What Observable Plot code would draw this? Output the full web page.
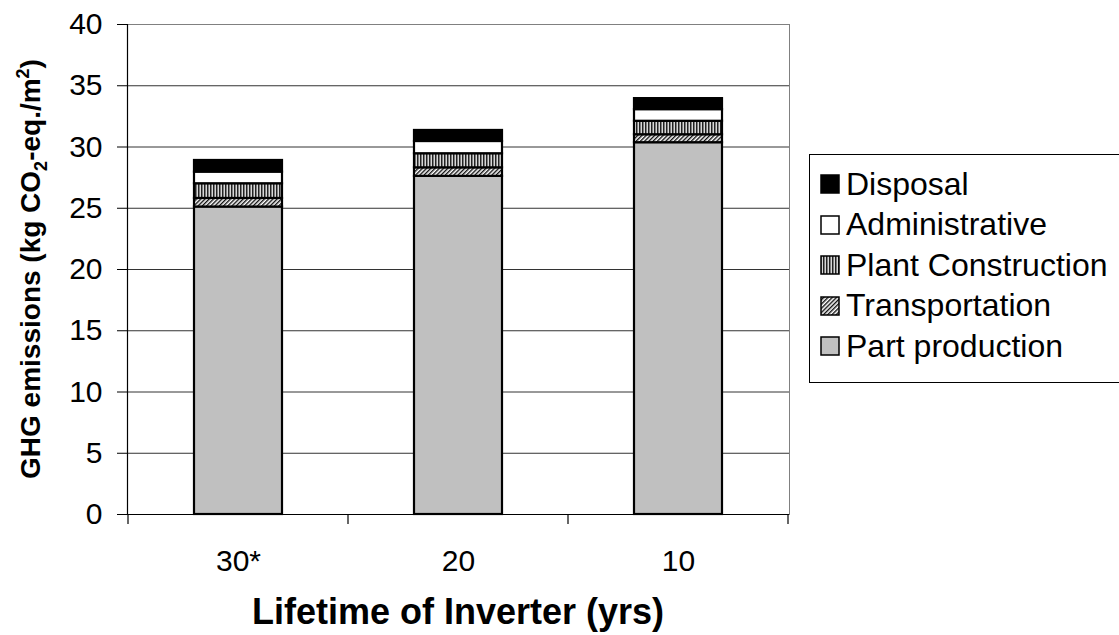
<!DOCTYPE html>
<html><head><meta charset="utf-8">
<script src="https://cdn.jsdelivr.net/npm/d3@7"></script>
<script src="https://cdn.jsdelivr.net/npm/@observablehq/plot@0.6"></script>
<style>
body{margin:0;background:#fff;font-family:Arial,"Liberation Sans",sans-serif;}
#wrap{position:relative;width:1119px;height:635px;overflow:hidden;}
#legend{position:absolute;left:809px;top:154px;width:320px;height:229px;border:1px solid #000;box-sizing:border-box;background:#fff;}
.row{position:absolute;left:10px;height:40px;display:flex;align-items:center;font-size:32px;color:#000;white-space:nowrap;}
.row svg{margin-right:6px;}
</style></head><body><div id="wrap"></div>
<script>
const categories = ["30*", "20", "10"];
const series = ["Part production", "Transportation", "Plant Construction", "Administrative", "Disposal"];
const partProduction = [25.1, 27.6, 30.35];
const transportation = [0.7, 0.7, 0.65];
const plantConstruction = [1.2, 1.15, 1.1];
const administrative = [0.95, 1.0, 0.95];
const disposal = [0.95, 0.9, 0.9];
const yTicks = [0, 5, 10, 15, 20, 25, 30, 35, 40];
const xTitle = "Lifetime of Inverter (yrs)";

const fills = {
  "Part production": "#c0c0c0",
  "Transportation": "url(#pat-diag)",
  "Plant Construction": "url(#pat-vert)",
  "Administrative": "#ffffff",
  "Disposal": "#000000"
};
const valuesBySeries = [partProduction, transportation, plantConstruction, administrative, disposal];
const data = [];
categories.forEach((c, i) => series.forEach((s, j) => data.push({cat: c, series: s, value: valuesBySeries[j][i]})));

const chart = Plot.plot({
  width: 1119, height: 635,
  marginLeft: 127, marginRight: 330, marginTop: 24, marginBottom: 121,
  style: {fontFamily: "Arial, 'Liberation Sans', sans-serif", fontSize: "30px", color: "#000", background: "#fff"},
  x: {domain: categories, paddingInner: 0.6, paddingOuter: 0.3, label: null},
  y: {domain: [0, 40], label: null},
  color: {type: "identity"},
  marks: [
    Plot.frame({stroke: "#808080"}),
    Plot.ruleY(yTicks.filter(t => t > 0 && t < 40), {stroke: "#333", strokeWidth: 1}),
    Plot.barY(data, Plot.stackY({x: "cat", y: "value", fill: d => fills[d.series], stroke: "#000", strokeWidth: 2.2})),
    Plot.ruleY([0], {stroke: "#000", strokeWidth: 1.2}),
    Plot.frame({anchor: "left", stroke: "#000", strokeWidth: 1.2}),
    Plot.axisY({ticks: yTicks, tickSize: 10, tickPadding: 15, fontSize: 30, label: null}),
    Plot.axisX({tickSize: 0, tickPadding: 35, fontSize: 30, label: null})
  ]
});

const svg = d3.select(chart);
const defs = svg.insert("defs", ":first-child");
const pv = defs.append("pattern").attr("id", "pat-vert").attr("patternUnits", "userSpaceOnUse").attr("width", 3).attr("height", 3);
pv.append("rect").attr("width", 3).attr("height", 3).attr("fill", "#d8d8d8");
pv.append("rect").attr("width", 1.5).attr("height", 3).attr("fill", "#222");
const pd = defs.append("pattern").attr("id", "pat-diag").attr("patternUnits", "userSpaceOnUse").attr("width", 3).attr("height", 3).attr("patternTransform", "rotate(45)");
pd.append("rect").attr("width", 3).attr("height", 3).attr("fill", "#fff");
pd.append("rect").attr("width", 1.4).attr("height", 3).attr("fill", "#111");

const xs = chart.scale("x"), ys = chart.scale("y");
const y0 = ys.apply(0);
const start = xs.apply(categories[0]) - (xs.step - xs.bandwidth) / 2;
for (let i = 0; i <= categories.length; i++) {
  const bx = start + i * xs.step;
  svg.append("line").attr("x1", bx).attr("x2", bx).attr("y1", y0).attr("y2", y0 + 10).attr("stroke", "#000").attr("stroke-width", 1.2);
}
const midX = (start + start + categories.length * xs.step) / 2;
svg.append("text").attr("x", midX).attr("y", 624).attr("text-anchor", "middle")
  .attr("font-weight", "bold").attr("font-size", 36).text(xTitle);
const yt = svg.append("text").attr("transform", `translate(40,${(ys.apply(0) + ys.apply(40)) / 2}) rotate(-90)`)
  .attr("text-anchor", "middle").attr("font-weight", "bold").attr("font-size", 28);
yt.append("tspan").text("GHG emissions (kg CO");
yt.append("tspan").attr("font-size", 18).attr("dy", 7).text("2");
yt.append("tspan").attr("dy", -7).text("-eq./m");
yt.append("tspan").attr("font-size", 18).attr("dy", -11).text("2");
yt.append("tspan").attr("dy", 11).text(")");

const wrap = document.getElementById("wrap");
wrap.appendChild(chart);
const legend = document.createElement("div");
legend.id = "legend";
wrap.appendChild(legend);
series.slice().reverse().forEach((s, i) => {
  const row = document.createElement("div");
  row.className = "row";
  row.style.top = (9 + i * 40.5) + "px";
  row.innerHTML = `<svg width="20" height="20"><rect x="1" y="1" width="18" height="18" fill="${fills[s]}" stroke="#000" stroke-width="1.5"/></svg><span>${s}</span>`;
  legend.appendChild(row);
});
</script>
</body></html>
